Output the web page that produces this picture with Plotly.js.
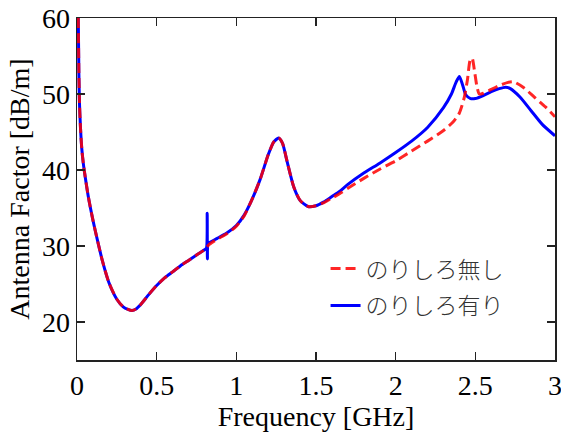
<!DOCTYPE html>
<html>
<head>
<meta charset="utf-8">
<script src="https://cdn.plot.ly/plotly-3.0.1.min.js"></script>
<style>html,body{margin:0;padding:0;background:#fff;}#chart{width:561px;height:432px;}</style>
</head>
<body>
<div id="chart"></div>
<script>
// Frequency [GHz] and antenna factor [dB/m]
const freqWith = [0.008,0.012,0.016,0.022,0.03,0.04,0.05,0.07,0.1,0.13,0.16,0.2,0.25,0.29,0.32,0.345,0.37,0.4,0.45,0.5,0.55,0.6,0.65,0.7,0.75,0.8,0.812,0.817,0.8185,0.822,0.835,0.88,0.94,1.0,1.05,1.1,1.15,1.2,1.235,1.265,1.29,1.32,1.36,1.4,1.45,1.5,1.55,1.6,1.65,1.7,1.8,1.9,2.0,2.1,2.2,2.3,2.35,2.38,2.4,2.42,2.44,2.47,2.5,2.55,2.6,2.65,2.69,2.72,2.78,2.85,2.92,3.0];
const afWith   = [60,52.5,48.5,45.5,42.8,40.8,39.3,36.6,33.4,30.6,28.0,25.2,23.0,22.0,21.65,21.5,21.7,22.3,23.6,24.8,25.8,26.6,27.4,28.1,28.8,29.5,29.7,34.3,28.3,30.3,30.5,31.0,31.7,32.7,34.1,36.2,38.8,42.0,43.7,44.2,43.5,41.0,37.8,36.0,35.2,35.3,35.8,36.5,37.2,38.1,39.6,40.9,42.3,43.8,45.6,48.2,50.0,51.6,52.3,51.2,49.9,49.4,49.4,49.8,50.3,50.7,50.9,50.7,49.6,47.8,46.0,44.5];

const freqWithout = [0.008,0.012,0.016,0.022,0.03,0.04,0.05,0.07,0.1,0.13,0.16,0.2,0.25,0.29,0.32,0.345,0.37,0.4,0.45,0.5,0.55,0.6,0.65,0.7,0.75,0.8,0.83,0.88,0.94,1.0,1.05,1.1,1.15,1.2,1.235,1.265,1.29,1.32,1.36,1.4,1.45,1.5,1.55,1.6,1.65,1.7,1.8,1.9,2.0,2.1,2.2,2.3,2.36,2.4,2.43,2.45,2.468,2.48,2.495,2.51,2.525,2.55,2.6,2.65,2.7,2.74,2.8,2.87,2.94,3.0];
const afWithout   = [60,52.5,48.5,45.5,42.8,40.8,39.3,36.6,33.4,30.6,28.0,25.2,23.0,22.0,21.65,21.5,21.7,22.3,23.6,24.8,25.8,26.6,27.4,28.1,28.8,29.5,30.2,30.9,31.6,32.6,34.0,36.2,38.8,42.0,43.7,44.2,43.5,41.0,37.8,36.0,35.2,35.3,35.7,36.3,36.9,37.6,38.9,40.1,41.2,42.5,43.8,45.2,46.3,47.5,49.5,51.8,54.5,54.7,53.0,51.0,50.0,50.1,50.6,51.1,51.5,51.6,50.9,49.6,48.3,47.0];

const seriesNames = ['のりしろ無し', 'のりしろ有り'];
const xTicks = [0, 0.5, 1, 1.5, 2, 2.5, 3];
const xTickText = ['0', '0.5', '1', '1.5', '2', '2.5', '3'];
const yTicks = [20, 30, 40, 50, 60];

const serif = '"Liberation Serif", "Times New Roman", Times, serif';

const traces = [
  {
    x: freqWith, y: afWith, type: 'scatter', mode: 'lines',
    name: seriesNames[1], legendgroup: 'b', legendrank: 2,
    line: {color: '#0000ff', width: 3, shape: 'spline', smoothing: 0.6}
  },
  {
    x: freqWithout, y: afWithout, type: 'scatter', mode: 'lines',
    name: seriesNames[0], legendgroup: 'a', legendrank: 1,
    line: {color: 'rgba(255,0,0,0.85)', width: 3, dash: '10px,5px', shape: 'spline', smoothing: 0.6}
  }
];

const axisCommon = {
  showgrid: false, zeroline: false, showline: true, linecolor: '#222', linewidth: 1.5,
  ticks: 'inside', ticklen: 8, tickwidth: 1.2, tickcolor: '#222', mirror: 'allticks',
  ticklabeloverflow: 'allow',
  tickfont: {family: serif, size: 28, color: '#000'}
};

const layout = {
  width: 561, height: 432,
  margin: {l: 77, r: 6, t: 18, b: 72},
  paper_bgcolor: '#fff', plot_bgcolor: '#fff',
  font: {family: serif},
  showlegend: true,
  legend: {
    x: 0.52, y: 0.33, xanchor: 'left', yanchor: 'top',
    traceorder: 'grouped', tracegroupgap: 4,
    bgcolor: 'rgba(255,255,255,0)', borderwidth: 0,
    font: {family: '"Noto Sans CJK JP", sans-serif', size: 23, color: '#333', weight: 300}
  },
  xaxis: Object.assign({}, axisCommon, {
    range: [0, 3], tickvals: xTicks, ticktext: xTickText,
    title: {text: 'Frequency [GHz]', font: {family: serif, size: 28, color: '#000'}, standoff: 6}
  }),
  yaxis: Object.assign({}, axisCommon, {
    range: [15, 60], tickvals: yTicks,
    title: {text: 'Antenna Factor [dB/m]', font: {family: serif, size: 28, color: '#000'}, standoff: 4}
  })
};

Plotly.newPlot('chart', traces, layout, {staticPlot: true, displayModeBar: false});
</script>
</body>
</html>
